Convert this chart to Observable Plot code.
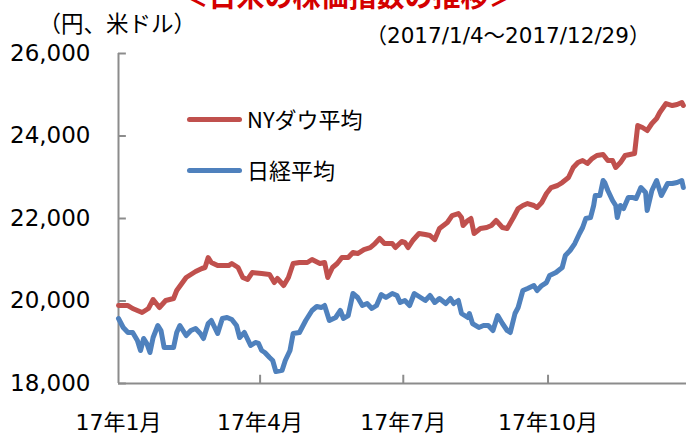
<!DOCTYPE html>
<html><head><meta charset="utf-8">
<script src="https://cdn.jsdelivr.net/npm/d3@7"></script>
<script src="https://cdn.jsdelivr.net/npm/@observablehq/plot@0.6"></script>
<style>
body{margin:0;background:#fff;}
#wrap{position:relative;width:686px;height:434px;overflow:hidden;}
.lg{position:absolute;font-family:"Noto Sans CJK JP",sans-serif;font-size:22px;color:#000;line-height:22px;white-space:nowrap;}
.sw{position:absolute;height:5px;border-radius:3px;}
</style></head><body><div id="wrap"></div>
<script>
const year = "2017";
const title = "＜日米の株価指数の推移＞";
const unitLabel = "（円、米ドル）";
const periodLabel = "（2017/1/4～2017/12/29）";
const seriesNames = ["NYダウ平均", "日経平均"];
const seriesColors = ["#C0504D", "#4F81BD"];
const yTicks = [18000, 20000, 22000, 24000, 26000];
const xTickDays = ["01-04", "04-04", "07-04", "10-04"];
const xTickLabels = ["17年1月", "17年4月", "17年7月", "17年10月"];
const xDomainDays = ["01-04", "12-31"];

const dowDays = ["01-04","01-10","01-13","01-19","01-23","01-26","01-30",
 "02-03","02-08","02-10","02-16","02-22","02-26","02-28",
 "03-02","03-04","03-08","03-15","03-17","03-21","03-24","03-27","03-30",
 "04-05","04-10","04-13","04-15","04-19","04-22","04-25","04-29",
 "05-04","05-07","05-12","05-15","05-17","05-20","05-23","05-26","05-30",
 "06-02","06-05","06-09","06-13","06-16","06-19","06-22","06-27","06-29",
 "07-03","07-05","07-07","07-10","07-14","07-18","07-21","07-24","07-27",
 "08-01","08-04","08-08","08-10","08-11","08-14","08-16","08-18","08-22","08-26","08-29",
 "09-01","09-05","09-08","09-12","09-15","09-18","09-21","09-25","09-27","09-30",
 "10-03","10-06","10-10","10-13","10-17","10-20","10-23","10-26","10-29",
 "11-01","11-04","11-08","11-11","11-14","11-16","11-19","11-22","11-25","11-28","11-30",
 "12-03","12-06","12-09","12-12","12-14","12-18","12-22","12-25","12-28","12-29"];
const dowValues = [19891,19890,19818,19721,19818,20036,19842,
 20012,20060,20254,20570,20715,20788,20812,
 21054,20933,20860,20860,20909,20812,20570,20521,20690,
 20666,20642,20448,20545,20376,20570,20909,20933,
 20933,21006,20909,20933,20570,20812,20909,21054,21054,
 21176,21151,21248,21296,21393,21515,21393,21393,21296,
 21442,21420,21296,21466,21636,21612,21587,21490,21757,
 21903,22072,22121,22024,21830,21951,22000,21636,21757,21782,21830,
 21951,21782,21757,22024,22242,22315,22363,22315,22266,22388,
 22606,22751,22800,22872,22993,23236,23357,23406,23333,
 23454,23527,23551,23406,23406,23236,23357,23527,23551,23575,24254,
 24206,24133,24303,24424,24569,24787,24739,24763,24812,24740];

const nikkeiDays = ["01-04","01-07","01-10","01-13","01-16","01-18","01-20","01-22","01-24","01-26","01-29","01-31",
 "02-02","02-05","02-08","02-10","02-12","02-16","02-19","02-22","02-25","02-27",
 "03-02","03-04","03-08","03-11","03-14","03-17","03-20","03-22","03-25","03-29",
 "04-01","04-03","04-05","04-07","04-10","04-12","04-14","04-18","04-20","04-23","04-25","04-29",
 "05-03","05-07","05-10","05-13","05-15","05-18","05-22","05-25","05-27","05-30",
 "06-02","06-05","06-08","06-11","06-14","06-17","06-20","06-23","06-27","06-30",
 "07-02","07-05","07-08","07-11","07-15","07-18","07-21","07-24","07-27","07-31",
 "08-03","08-05","08-08","08-10","08-14","08-15","08-17","08-21","08-24","08-27","08-30",
 "09-02","09-05","09-08","09-10","09-13","09-15","09-18","09-21","09-25","09-27","09-30",
 "10-03","10-05","10-09","10-13","10-15","10-18","10-21","10-24","10-26","10-28","10-31",
 "11-02","11-03","11-06","11-08","11-09","11-11","11-14","11-16","11-17","11-19","11-21","11-24","11-27","11-29",
 "12-02","12-05","12-06","12-09","12-12","12-15","12-19","12-22","12-25","12-28","12-29"];
const nikkeiValues = [19576,19358,19236,19236,19042,18800,19091,18970,18751,19115,19406,19285,
 18873,18873,18873,19236,19406,19163,19285,19333,19212,19091,
 19454,19527,19212,19576,19600,19551,19406,19115,19236,18921,
 18994,18970,18800,18751,18630,18557,18290,18320,18557,18800,19212,19236,
 19527,19770,19867,19842,19891,19527,19600,19770,19576,19648,
 20182,20085,19891,19939,19818,19891,20157,20085,20182,20133,
 19964,20012,19891,20182,20085,20012,20133,19964,20060,19939,
 20060,19939,20012,19697,19600,19697,19454,19358,19406,19406,19285,
 19648,19454,19285,19236,19697,19842,20254,20303,20375,20254,20375,
 20448,20618,20690,20812,21103,21224,21393,21636,21782,22000,22024,
 22315,22557,22557,22921,22872,22678,22436,22315,22024,22315,22242,22509,22509,22484,
 22751,22630,22194,22678,22921,22557,22848,22848,22872,22921,22751];

const toDate = md => new Date(`${year}-${md}T00:00:00Z`);
const dow = dowDays.map((d, i) => ({date: toDate(d), value: dowValues[i]}));
const nikkei = nikkeiDays.map((d, i) => ({date: toDate(d), value: nikkeiValues[i]}));
const xTicks = xTickDays.map(toDate);
const x0 = toDate(xDomainDays[0]);
const axisGray = "#8c8c8c";
const jp = "'Noto Sans CJK JP', sans-serif";
const num = "'DejaVu Sans', 'Noto Sans CJK JP', sans-serif";

const chart = Plot.plot({
  width: 686, height: 434,
  marginLeft: 118, marginRight: 0, marginTop: 53, marginBottom: 51,
  style: {background: "#fff", fontFamily: num},
  x: {type: "utc", domain: xDomainDays.map(toDate), axis: null},
  y: {domain: [yTicks[0], yTicks[yTicks.length - 1]], axis: null},
  marks: [
    Plot.ruleY(yTicks, {x1: x0, x2: d3.utcDay.offset(x0, 5), stroke: axisGray, strokeWidth: 2}),
    Plot.ruleX(xTicks.slice(1), {y1: yTicks[0], y2: yTicks[0] + 200, stroke: axisGray, strokeWidth: 2}),
    Plot.ruleX([x0], {y1: yTicks[0], y2: yTicks[yTicks.length - 1], stroke: axisGray, strokeWidth: 2}),
    Plot.ruleY([yTicks[0]], {stroke: axisGray, strokeWidth: 2}),
    Plot.text(yTicks, {x: x0, y: d => d, text: d => d3.format(",")(d), textAnchor: "end", dx: -28, fontSize: 23, fill: "#000", fontFamily: num}),
    Plot.text(xTicks, {x: d => d, y: yTicks[0], text: (d, i) => xTickLabels[i], dy: 39, fontSize: 22, fill: "#000", fontFamily: num}),
    Plot.line(nikkei, {x: "date", y: "value", stroke: seriesColors[1], strokeWidth: 5, strokeLinejoin: "round", strokeLinecap: "round"}),
    Plot.line(dow, {x: "date", y: "value", stroke: seriesColors[0], strokeWidth: 5, strokeLinejoin: "round", strokeLinecap: "round"}),
    Plot.text([unitLabel], {frameAnchor: "top-left", textAnchor: "start", dx: -80, dy: -37, fontSize: 22.5, fill: "#000", fontFamily: jp}),
    Plot.text([periodLabel], {frameAnchor: "top-left", textAnchor: "start", dx: 247, dy: -26, fontSize: 21.5, fill: "#000", fontFamily: num}),
    Plot.text([title], {frameAnchor: "top-left", textAnchor: "middle", dx: 230, dy: -66, fontSize: 28, fontWeight: "bold", fill: "#d40000", fontFamily: jp})
  ]
});
const wrap = document.getElementById("wrap");
wrap.appendChild(chart);
const legendRows = [{y: 119}, {y: 170}];
seriesNames.forEach((name, i) => {
  const sw = document.createElement("div");
  sw.className = "sw";
  sw.style.left = "187px"; sw.style.width = "55px";
  sw.style.top = (legendRows[i].y - 2.5) + "px";
  sw.style.background = seriesColors[i];
  wrap.appendChild(sw);
  const t = document.createElement("div");
  t.className = "lg";
  t.style.left = "247px";
  t.style.top = (legendRows[i].y - 12) + "px";
  t.textContent = name;
  wrap.appendChild(t);
});
</script></body></html>
